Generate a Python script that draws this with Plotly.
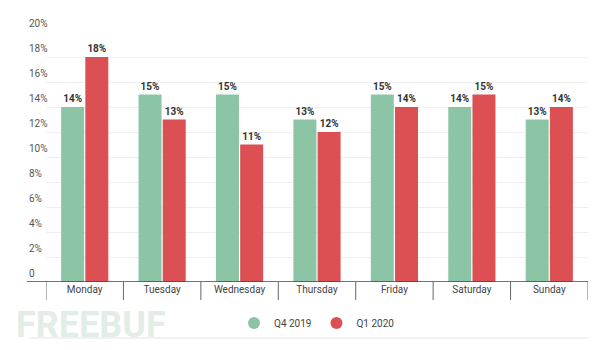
import plotly.graph_objects as go

days = ["Monday", "Tuesday", "Wednesday", "Thursday", "Friday", "Saturday", "Sunday"]
q4_2019 = [14, 15, 15, 13, 15, 14, 13]
q1_2020 = [18, 13, 11, 12, 14, 15, 14]
y_ticks = [0, 2, 4, 6, 8, 10, 12, 14, 16, 18, 20]
y_tick_labels = ["0", "2%", "4%", "6%", "8%", "10%", "12%", "14%", "16%", "18%", "20%"]
series_names = ["Q4 2019", "Q1 2020"]

GREEN = "#8cc5a5"
RED = "#dc4f53"
FONT = "Roboto"

L, R, T, B = 46, 12, 32, 68
W, H = 600, 350
pw = W - L - R
ph = H - T - B

fig = go.Figure()
for name, vals, col in [(series_names[0], q4_2019, GREEN), (series_names[1], q1_2020, RED)]:
    fig.add_trace(go.Bar(
        x=days, y=vals, name=name, marker=dict(color=col, line=dict(width=0)),
        text=[f"{v}%" for v in vals], textposition="outside",
        textfont=dict(family=FONT, size=10, color="#333333", weight="bold"),
        cliponaxis=False, showlegend=False,
    ))
    fig.add_trace(go.Scatter(
        x=[None], y=[None], mode="markers", name=name,
        marker=dict(color=col, size=12, symbol="circle"), showlegend=True,
    ))

shapes = []
# baseline
shapes.append(dict(type="line", xref="paper", yref="y", x0=(27 - L) / pw, x1=1.0, y0=0, y1=0,
                   line=dict(color="#444444", width=1.5)))
# category separators
for i in range(len(days) + 1):
    shapes.append(dict(type="line", xref="x", yref="paper", x0=i - 0.5, x1=i - 0.5,
                       y0=0, y1=-18 / ph, line=dict(color="#666666", width=1)))
# bottom light line
shapes.append(dict(type="line", xref="paper", yref="paper", x0=(30 - L) / pw, x1=1.0,
                   y0=-(338 - (T + ph)) / ph, y1=-(338 - (T + ph)) / ph,
                   line=dict(color="#eeeeee", width=1.5)))

annotations = []
for v, lab in zip(y_ticks, y_tick_labels):
    annotations.append(dict(x=(27 - L) / pw, xref="paper", y=v, yref="y", text=lab,
                            showarrow=False, xanchor="left", yanchor="bottom", yshift=1,
                            font=dict(family=FONT, size=10, color="#555555")))
annotations.append(dict(x=(14 - L) / pw, xref="paper", y=-(325 - (T + ph)) / ph, yref="paper",
                        text="<b>FREEBUF</b>", showarrow=False, xanchor="left", yanchor="middle",
                        font=dict(family=FONT, size=36, color="#e2ede7")))

fig.update_layout(
    width=W, height=H, margin=dict(l=L, r=R, t=T, b=B),
    paper_bgcolor="white", plot_bgcolor="white",
    barmode="group", bargap=0.375, bargroupgap=0.05,
    font=dict(family=FONT, size=10, color="#444444"),
    xaxis=dict(type="category", range=[-0.5, 6.5], showgrid=False, showline=False,
               ticks="", tickfont=dict(family=FONT, size=10, color="#444444"), fixedrange=True),
    yaxis=dict(range=[0, 20], tickvals=y_ticks, showticklabels=False, showgrid=True,
               gridcolor="#efefef", gridwidth=1, zeroline=False, showline=False),
    legend=dict(orientation="h", x=0.5, xanchor="center", y=-(323 - (T + ph)) / ph, yanchor="middle",
                font=dict(family=FONT, size=10, color="#444444"), itemwidth=30,
                bgcolor="rgba(0,0,0,0)"),
    shapes=shapes, annotations=annotations,
)

fig.write_html("out.html")
